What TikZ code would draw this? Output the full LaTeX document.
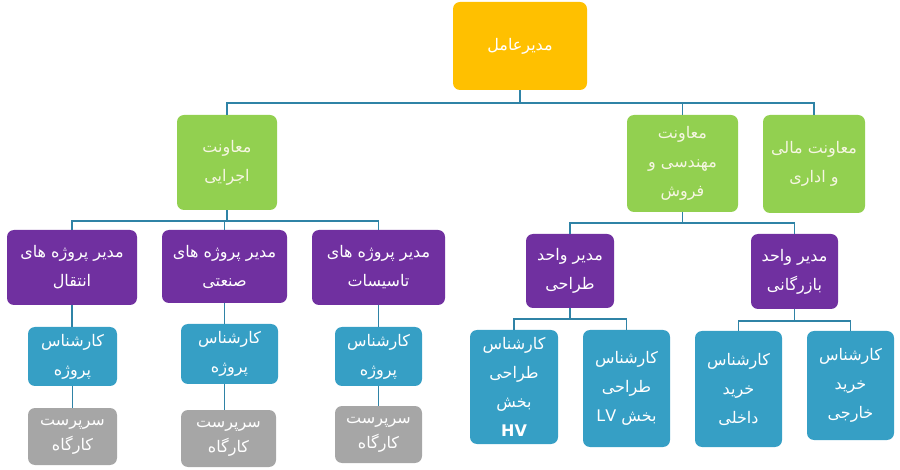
\documentclass[tikz,border=0pt]{standalone}
\usepackage{fontspec}
\newfontfamily\arabicfont[Script=Arabic]{DejaVu Sans}
\TeXXeTstate=1
\newcommand\rl[1]{\beginR #1\endR}
\definecolor{corange}{HTML}{FFC000}
\definecolor{cgreen}{HTML}{92D050}
\definecolor{cpurple}{HTML}{7030A0}
\definecolor{cblue}{HTML}{369FC5}
\definecolor{cgray}{HTML}{A6A6A6}
\definecolor{cline}{HTML}{2F83A6}
\definecolor{cpale}{HTML}{F6F6E2}
\tikzset{
  box/.style={rectangle, rounded corners=7pt, draw=none, text=white, align=center, inner sep=0pt,
    font=\arabicfont\fontsize{16}{29}\selectfont},
  tight/.style={font=\arabicfont\fontsize{16}{25}\selectfont},
  conn/.style={draw=cline, line width=1.6pt},
}
\begin{document}
\begin{tikzpicture}[x=1pt,y=-1pt]
\useasboundingbox (0,0) rectangle (900,470);
% level 0
\node[box, fill=corange, minimum width=134pt, minimum height=88pt] (ceo) at (520,46) {\rl{مدیرعامل}};
% level 1
\node[box, fill=cgreen, text=cpale, minimum width=100pt, minimum height=95pt] (ejra) at (227,162.5) {\rl{معاونت}\\\rl{اجرایی}};
\node[box, fill=cgreen, text=cpale, minimum width=111pt, minimum height=97pt] (mohand) at (682.5,163.5) {\rl{معاونت}\\\rl{مهندسی و}\\\rl{فروش}};
\node[box, fill=cgreen, text=cpale, minimum width=102pt, minimum height=98pt] (mali) at (814,164) {\rl{معاونت مالی}\\\rl{و اداری}};
% level 2 left
\node[box, fill=cpurple, minimum width=130pt, minimum height=75pt] (p1) at (72,267.5) {\rl{مدیر پروژه های}\\\rl{انتقال}};
\node[box, fill=cpurple, minimum width=125pt, minimum height=73pt] (p2) at (224.5,266.5) {\rl{مدیر پروژه های}\\\rl{صنعتی}};
\node[box, fill=cpurple, minimum width=133pt, minimum height=75pt] (p3) at (378.5,267.5) {\rl{مدیر پروژه های}\\\rl{تاسیسات}};
% level 2 right
\node[box, fill=cpurple, minimum width=88pt, minimum height=74pt] (d1) at (570,271) {\rl{مدیر واحد}\\\rl{طراحی}};
\node[box, fill=cpurple, minimum width=87pt, minimum height=75pt] (d2) at (794.5,271.5) {\rl{مدیر واحد}\\\rl{بازرگانی}};
% level 3 left
\node[box, fill=cblue, minimum width=89pt, minimum height=59pt] (k1) at (72.5,356.5) {\rl{کارشناس}\\\rl{پروژه}};
\node[box, fill=cblue, minimum width=97pt, minimum height=60pt] (k2) at (229.5,354) {\rl{کارشناس}\\\rl{پروژه}};
\node[box, fill=cblue, minimum width=87pt, minimum height=59pt] (k3) at (378.5,356.5) {\rl{کارشناس}\\\rl{پروژه}};
% level 4 left
\node[box, tight, fill=cgray, minimum width=89pt, minimum height=57pt] (g1) at (72.5,436.5) {\rl{سرپرست}\\\rl{کارگاه}};
\node[box, tight, fill=cgray, minimum width=95pt, minimum height=57pt] (g2) at (228.5,438.5) {\rl{سرپرست}\\\rl{کارگاه}};
\node[box, tight, fill=cgray, minimum width=87pt, minimum height=57pt] (g3) at (378.5,434.5) {\rl{سرپرست}\\\rl{کارگاه}};
% level 3 right
\node[box, fill=cblue, minimum width=88pt, minimum height=114pt] (e1) at (514,387) {\rl{کارشناس}\\\rl{طراحی}\\\rl{بخش}\\{\bfseries HV}};
\node[box, fill=cblue, minimum width=87pt, minimum height=117pt] (e2) at (626.5,388.5) {\rl{کارشناس}\\\rl{طراحی}\\\rl{بخش \beginL LV\endL}};
\node[box, fill=cblue, minimum width=87pt, minimum height=116pt] (e3) at (738.5,389) {\rl{کارشناس}\\\rl{خرید}\\\rl{داخلی}};
\node[box, fill=cblue, minimum width=87pt, minimum height=109pt] (e4) at (850.5,385.5) {\rl{کارشناس}\\\rl{خرید}\\\rl{خارجی}};
% connectors
\coordinate (b0) at (0,103);
\foreach \c in {ejra,mohand,mali}{
  \draw[conn] (ceo.south) -- (ceo.south |- b0) -| (\c.north);
}
\coordinate (b1) at (0,221);
\foreach \c in {p1,p2,p3}{
  \draw[conn] (ejra.south) -- (ejra.south |- b1) -| (\c.north);
}
\coordinate (b2) at (0,223);
\foreach \c in {d1,d2}{
  \draw[conn] (mohand.south) -- (mohand.south |- b2) -| (\c.north);
}
\coordinate (b3) at (0,319);
\foreach \c in {e1,e2}{
  \draw[conn] (d1.south) -- (d1.south |- b3) -| (\c.north);
}
\coordinate (b4) at (0,321);
\foreach \c in {e3,e4}{
  \draw[conn] (d2.south) -- (d2.south |- b4) -| (\c.north);
}
\draw[conn] (p1.south) -- (p1.south |- k1.north);
\draw[conn] (p2.south) -- (p2.south |- k2.north);
\draw[conn] (p3.south) -- (p3.south |- k3.north);
\draw[conn] (k1.south) -- (k1.south |- g1.north);
\draw[conn] (p2.south |- k2.south) -- (p2.south |- g2.north);
\draw[conn] (k3.south) -- (k3.south |- g3.north);
\end{tikzpicture}
\end{document}
